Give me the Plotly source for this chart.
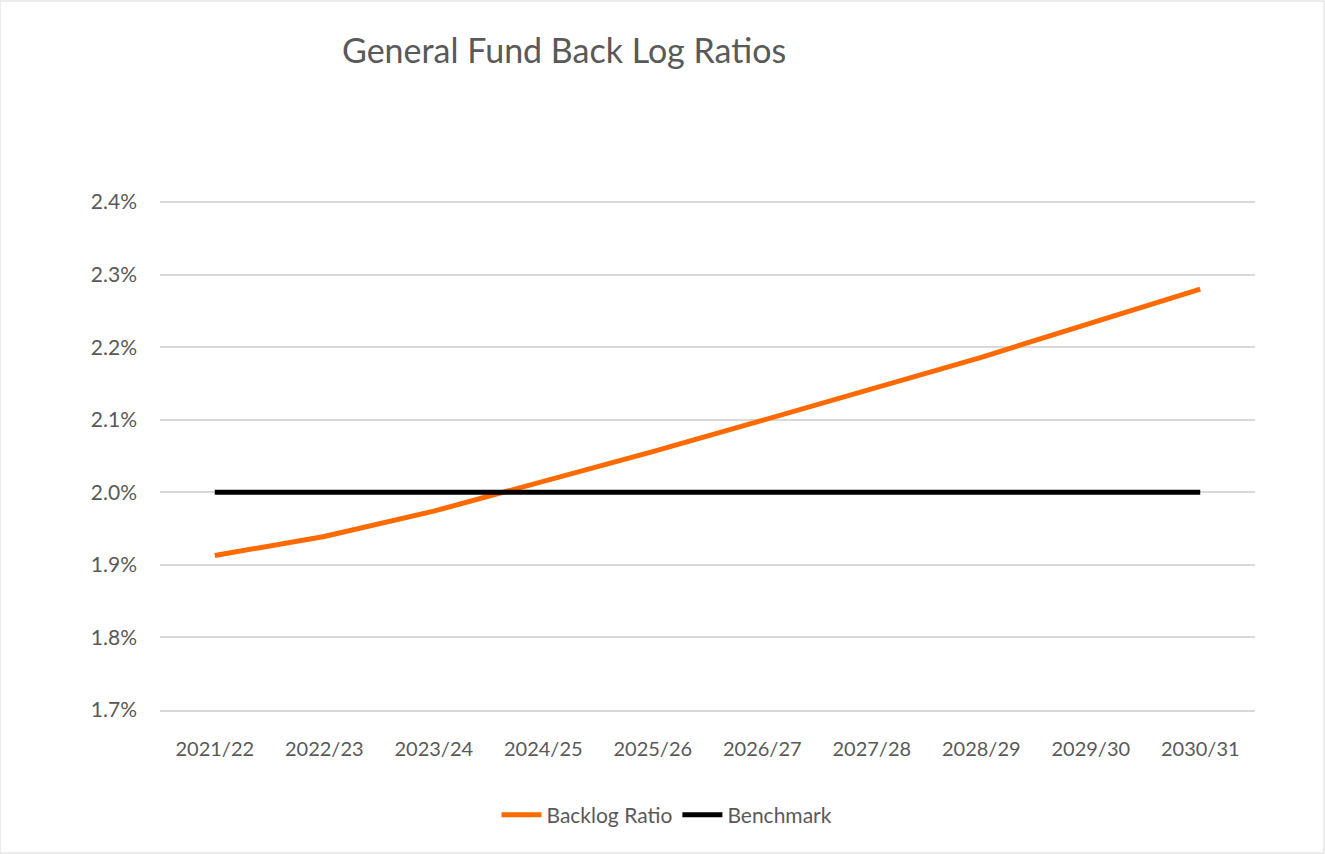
import plotly.graph_objects as go

years = ["2021/22", "2022/23", "2023/24", "2024/25", "2025/26",
         "2026/27", "2027/28", "2028/29", "2029/30", "2030/31"]
backlog_ratio = [1.913, 1.939, 1.974, 2.015, 2.056, 2.099, 2.142, 2.186, 2.233, 2.280]
benchmark = [2.0, 2.0, 2.0, 2.0, 2.0, 2.0, 2.0, 2.0, 2.0, 2.0]
y_ticks = [1.7, 1.8, 1.9, 2.0, 2.1, 2.2, 2.3, 2.4]

FONT = "Lato"
GREY = "#595959"
PLOT_H = 510

fig = go.Figure()
fig.add_trace(go.Scatter(x=years, y=backlog_ratio, mode="lines", name="Backlog Ratio",
                         line=dict(color="#FF6A00", width=5)))
fig.add_trace(go.Scatter(x=years, y=benchmark, mode="lines", name="Benchmark",
                         line=dict(color="#000000", width=5)))

fig.update_layout(
    width=1325, height=854,
    paper_bgcolor="white", plot_bgcolor="white",
    margin=dict(l=160, r=70, t=200, b=144),
    font=dict(family=FONT, color=GREY, size=20),
    title=dict(text="General Fund Back Log Ratios", x=342/1325, xanchor="left",
               y=1-51/854, yanchor="middle",
               font=dict(family=FONT, size=34, color=GREY)),
    showlegend=True,
    legend=dict(orientation="h", x=507/1095, xanchor="center", y=-105/PLOT_H, yanchor="middle",
                font=dict(family=FONT, size=21, color=GREY), itemwidth=40,
                traceorder="normal"),
    xaxis=dict(range=[-0.5, 9.5], showgrid=False, zeroline=False,
               showline=True, linecolor="#d9d9d9", linewidth=1.5,
               ticks="", tickfont=dict(size=20, color=GREY), ticklabelstandoff=20),
    yaxis=dict(range=[1.7, 1.7 + PLOT_H / 725.7], tickvals=y_ticks,
               ticktext=[f"{v:.1f}%" for v in y_ticks],
               showgrid=True, gridcolor="#d9d9d9", gridwidth=1.5,
               zeroline=False, showline=False, ticks="",
               tickfont=dict(size=21, color=GREY), ticklabelstandoff=22),
    shapes=[dict(type="rect", xref="paper", yref="paper",
                 x0=-160/1095, x1=1+69/1095, y0=-143/PLOT_H, y1=1+199/PLOT_H,
                 line=dict(color="#d9d9d9", width=1), fillcolor="rgba(0,0,0,0)")],
)

fig.write_html("out.html")
